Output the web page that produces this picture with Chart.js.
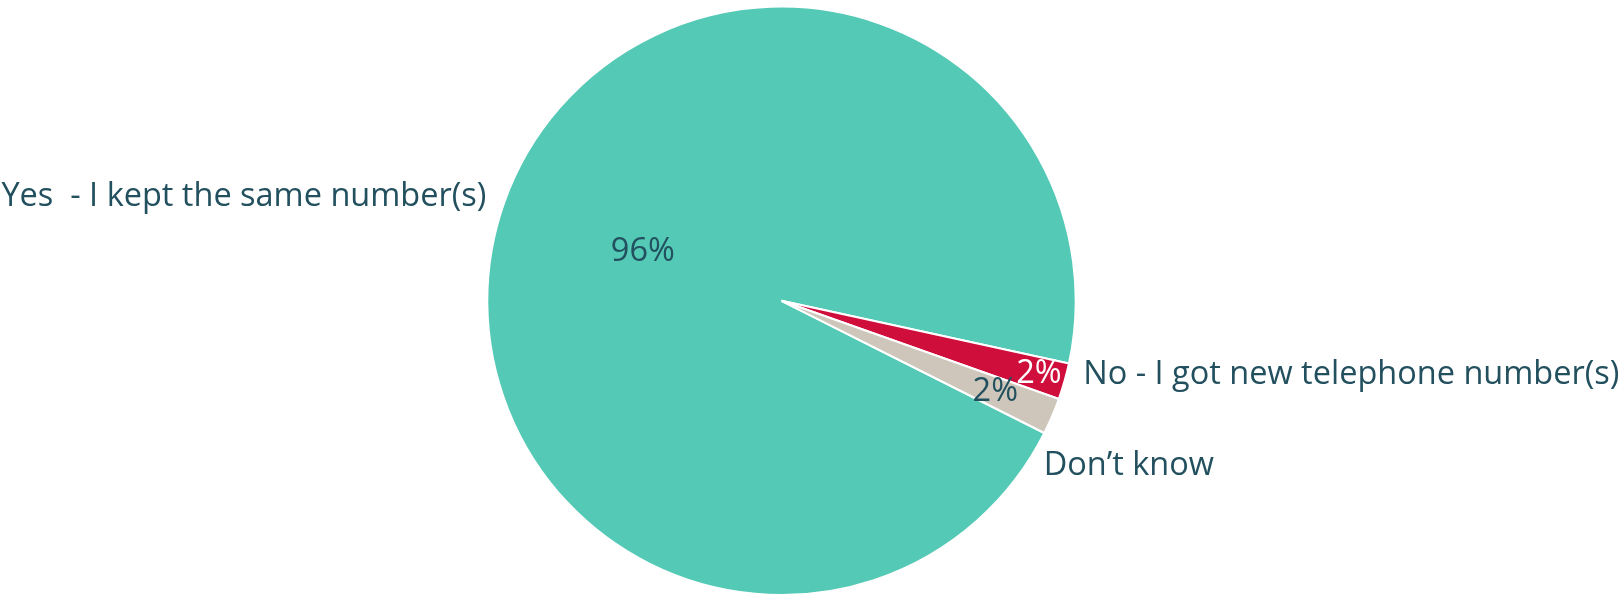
<!DOCTYPE html>
<html>
<head>
<meta charset="utf-8">
<script src="https://cdn.jsdelivr.net/npm/chart.js@4/dist/chart.umd.min.js"></script>
<style>
  html, body { margin: 0; padding: 0; background: #fff; }
  #wrap { width: 1623px; height: 599px; }
</style>
</head>
<body>
<div id="wrap"><canvas id="pieChart" width="1623" height="599"></canvas></div>
<script>
const categories = ["Yes  - I kept the same number(s)", "No - I got new telephone number(s)", "Don\u2019t know"];
const shares = [96, 2, 2];
const valueLabels = ["96%", "2%", "2%"];
const sliceColors = ["#53C9B6", "#D00E3C", "#CEC6BA"];

const textColor = "#22505E";
const fontFamily = "'Open Sans', sans-serif";

// where Excel put each label: radius as a share of the pie radius, optional angle (deg)
const valueLabelPos = [
  { r: 0.5, color: textColor },
  { r: 0.91, color: "#ffffff" },
  { r: 0.79, color: textColor },
];
const categoryLabelPos = [
  { r: 1.064, align: "right" },
  { r: 1.056, angle: 13.8, align: "left" },
  { r: 1.053, angle: 32.2, align: "left" },
];

const pieLabels = {
  id: "pieLabels",
  afterDatasetsDraw(chart) {
    const ctx = chart.ctx;
    const arcs = chart.getDatasetMeta(0).data;
    ctx.save();
    ctx.font = "32.5px " + fontFamily;
    ctx.textBaseline = "middle";
    arcs.forEach((arc, i) => {
      const p = arc.getProps(["x", "y", "startAngle", "endAngle", "outerRadius"], true);
      const mid = (p.startAngle + p.endAngle) / 2;

      const v = valueLabelPos[i];
      ctx.fillStyle = v.color;
      ctx.textAlign = "center";
      ctx.fillText(valueLabels[i], p.x + Math.cos(mid) * p.outerRadius * v.r, p.y + Math.sin(mid) * p.outerRadius * v.r);

      const c = categoryLabelPos[i];
      const a = c.angle !== undefined ? c.angle * Math.PI / 180 : mid;
      ctx.fillStyle = textColor;
      ctx.textAlign = c.align;
      ctx.fillText(categories[i], p.x + Math.cos(a) * p.outerRadius * c.r, p.y + Math.sin(a) * p.outerRadius * c.r);
    });
    ctx.restore();
  },
};

const ctx = document.getElementById("pieChart").getContext("2d");
new Chart(ctx, {
  type: "pie",
  data: {
    labels: categories,
    datasets: [
      {
        data: shares,
        backgroundColor: sliceColors,
        borderColor: "#ffffff",
        borderWidth: 2,
      },
    ],
  },
  options: {
    responsive: false,
    animation: false,
    rotation: 116.7,
    layout: { padding: { top: 5.6, bottom: 3, left: 0, right: 60 } },
    plugins: {
      legend: { display: false },
      tooltip: { enabled: false },
    },
  },
  plugins: [pieLabels],
});
</script>
</body>
</html>
